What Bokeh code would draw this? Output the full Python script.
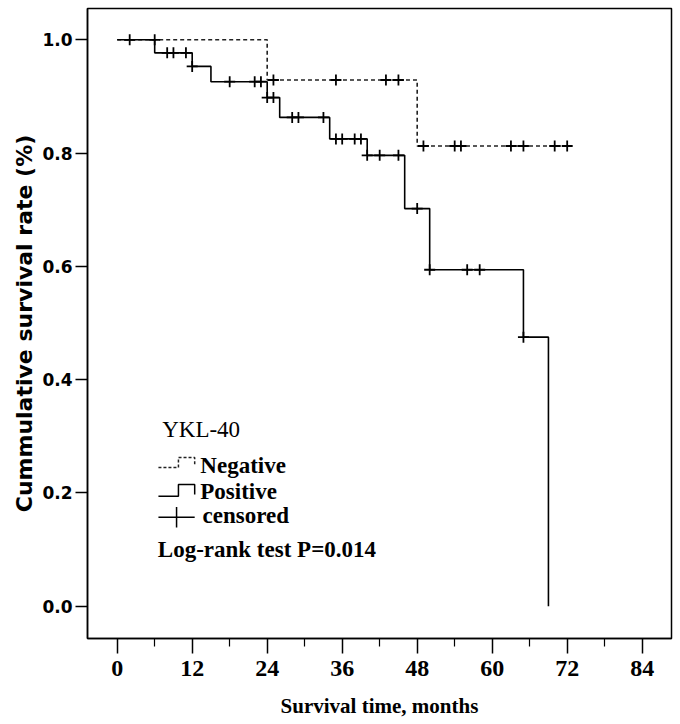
from bokeh.plotting import figure
from bokeh.embed import file_html
from bokeh.resources import INLINE
from bokeh.models import FixedTicker, PrintfTickFormatter, Range1d
from bokeh.core.properties import value

# ---------------- data ----------------
# Kaplan-Meier step functions: time of each step and survival after it
neg_time = [0, 24, 48, 72]
neg_surv = [1.0, 0.929, 0.8125, 0.8125]
pos_time = [0, 6, 12, 15, 24, 26, 34, 40, 46, 50, 65, 69]
pos_surv = [1.0, 0.977, 0.953, 0.926, 0.898, 0.863, 0.825, 0.796, 0.702, 0.594, 0.475, 0.0]

# censored observations
neg_cens_time = [25, 35, 43, 45, 49, 54, 55, 63, 65, 70, 72]
neg_cens_surv = [0.929, 0.929, 0.929, 0.929, 0.8125, 0.8125, 0.8125, 0.8125, 0.8125, 0.8125, 0.8125]
pos_cens_time = [2, 6, 8, 9, 11, 12, 18, 22, 23, 24, 25, 28, 29, 33, 35, 36, 38, 39, 40, 42, 45, 48, 50, 56, 58, 65]
pos_cens_surv = [1.0, 1.0, 0.977, 0.977, 0.977, 0.953, 0.926, 0.926, 0.926, 0.898, 0.898,
                 0.863, 0.863, 0.863, 0.825, 0.825, 0.825, 0.825, 0.796, 0.796, 0.796,
                 0.702, 0.594, 0.594, 0.594, 0.475]

x_ticks = [0, 12, 24, 36, 48, 60, 72, 84]
x_minor = [6, 18, 30, 42, 54, 66, 78]
y_ticks = [0.0, 0.2, 0.4, 0.6, 0.8, 1.0]

legend_title = "YKL-40"
legend_labels = ["Negative", "Positive", "censored"]
test_text = "Log-rank test P=0.014"

# ---------------- figure ----------------
p = figure(width=680, height=724, output_backend="svg", toolbar_location=None,
           x_range=Range1d(-4.75, 88.69), y_range=Range1d(-0.05703, 1.05526),
           min_border_left=87, min_border_right=9, min_border_top=8, min_border_bottom=86)
p.xgrid.visible = False
p.ygrid.visible = False
p.background_fill_color = "white"
p.border_fill_color = "white"
p.outline_line_color = "black"
p.outline_line_width = 1.5

SERIF = "Liberation Serif"
SANS = "DejaVu Sans"

# x axis
p.xaxis.ticker = FixedTicker(ticks=x_ticks, minor_ticks=x_minor)
p.xaxis.axis_line_color = "black"
p.xaxis.axis_line_width = 1.5
p.xaxis.major_tick_in = 0
p.xaxis.major_tick_out = 15
p.xaxis.minor_tick_in = 0
p.xaxis.minor_tick_out = 8
p.xaxis.major_tick_line_width = 1.5
p.xaxis.minor_tick_line_width = 1.2
p.xaxis.major_tick_line_color = "black"
p.xaxis.minor_tick_line_color = "black"
p.xaxis.major_label_text_font = SERIF
p.xaxis.major_label_text_font_style = "bold"
p.xaxis.major_label_text_font_size = "24px"
p.xaxis.major_label_text_color = "black"
p.xaxis.major_label_standoff = 7
p.xaxis.axis_label = "Survival time, months"
p.xaxis.axis_label_text_font = SERIF
p.xaxis.axis_label_text_font_style = "bold"
p.xaxis.axis_label_text_font_size = "21px"
p.xaxis.axis_label_text_color = "black"
p.xaxis.axis_label_standoff = 15

# y axis
p.yaxis.ticker = FixedTicker(ticks=y_ticks, minor_ticks=[])
p.yaxis.formatter = PrintfTickFormatter(format="%.1f")
p.yaxis.axis_line_color = "black"
p.yaxis.axis_line_width = 1.5
p.yaxis.major_tick_in = 0
p.yaxis.major_tick_out = 12
p.yaxis.minor_tick_out = 0
p.yaxis.minor_tick_in = 0
p.yaxis.major_tick_line_width = 1.5
p.yaxis.major_tick_line_color = "black"
p.yaxis.major_label_text_font = SANS
p.yaxis.major_label_text_font_style = "bold"
p.yaxis.major_label_text_font_size = "17px"
p.yaxis.major_label_text_color = "black"
p.yaxis.major_label_standoff = 3
p.yaxis.axis_label = "Cummulative survival rate (%)"
p.yaxis.axis_label_text_font = SANS
p.yaxis.axis_label_text_font_style = "bold"
p.yaxis.axis_label_text_font_size = "22px"
p.yaxis.axis_label_text_color = "black"
p.yaxis.axis_label_standoff = 2

# ---------------- curves ----------------
p.step(neg_time, neg_surv, mode="after", line_color="#222222", line_width=1.6, line_dash="4 3")
p.step(pos_time, pos_surv, mode="after", line_color="black", line_width=1.6)
p.scatter(neg_cens_time, neg_cens_surv, marker="cross", size=11, line_width=1.8, line_color="black")
p.scatter(pos_cens_time, pos_cens_surv, marker="cross", size=11, line_width=1.8, line_color="black")

# ---------------- legend (drawn by hand) ----------------
LX0, LX1, LX2 = 6.6, 9.8, 12.4   # symbol x positions (months)
TX = 13.3                         # text x
p.line([LX0, LX1, LX1, LX2, LX2], [0.245, 0.245, 0.2625, 0.2625, 0.249],
       line_color="#222222", line_width=1.5, line_dash="3 2")
p.line([LX0, LX1, LX1, LX2, LX2], [0.194, 0.194, 0.215, 0.215, 0.197],
       line_color="black", line_width=1.5)
p.line([LX0, LX2], [0.157, 0.157], line_color="black", line_width=1.5)
p.line([9.5, 9.5], [0.139, 0.175], line_color="black", line_width=1.5)

p.text(x=[7.2], y=[0.312], text=[legend_title], text_font=value(SERIF),
       text_font_size="23px", text_baseline="middle", text_color="black")
p.text(x=[TX, TX, TX + 0.35], y=[0.2485, 0.2025, 0.16], text=legend_labels,
       text_font=value(SERIF), text_font_style="bold", text_font_size="23px",
       text_baseline="middle", text_color="black")
p.text(x=[6.5], y=[0.10], text=[test_text], text_font=value(SERIF),
       text_font_style="bold", text_font_size="23px", text_baseline="middle",
       text_color="black")

open("out.html", "w").write(file_html(p, INLINE))
